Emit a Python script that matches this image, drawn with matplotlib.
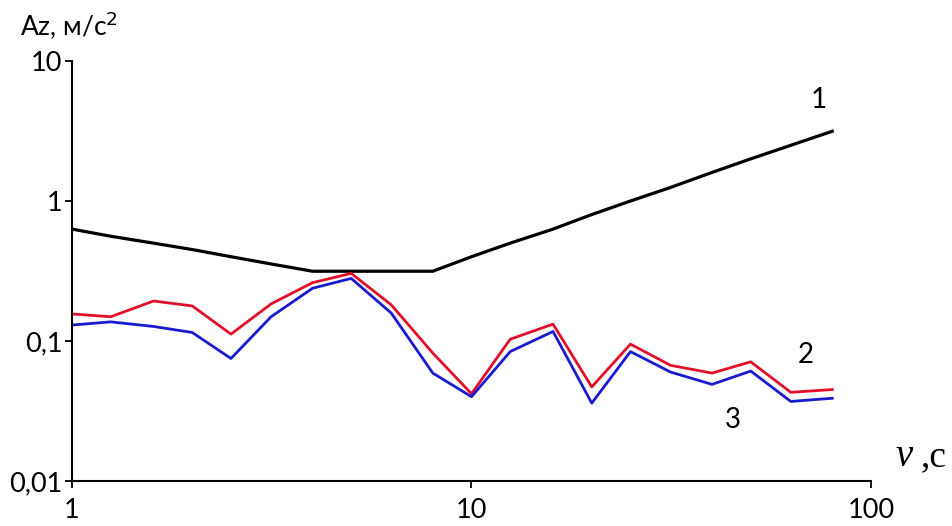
import matplotlib
matplotlib.use("Agg")
import matplotlib.pyplot as plt
from matplotlib.ticker import FixedLocator, FixedFormatter, NullLocator

freq = [1, 1.25, 1.6, 2, 2.5, 3.15, 4, 5, 6.3, 8, 10, 12.5, 16, 20, 25, 31.5, 40, 50, 63, 80]
limit_1 = [0.63, 0.56, 0.5, 0.45, 0.4, 0.355, 0.315, 0.315, 0.315, 0.315,
           0.4, 0.5, 0.63, 0.8, 1.0, 1.25, 1.6, 2.0, 2.5, 3.15]
series_2 = [0.156, 0.149, 0.193, 0.178, 0.112, 0.184, 0.261, 0.304, 0.181, 0.082,
            0.042, 0.103, 0.132, 0.047, 0.095, 0.067, 0.059, 0.071, 0.043, 0.045]
series_3 = [0.130, 0.137, 0.127, 0.115, 0.075, 0.149, 0.238, 0.280, 0.158, 0.059,
            0.040, 0.084, 0.117, 0.036, 0.084, 0.060, 0.049, 0.061, 0.037, 0.039]

xticks = [1, 10, 100]
xtick_labels = ["1", "10", "100"]
yticks = [0.01, 0.1, 1, 10]
ytick_labels = ["0,01", "0,1", "1", "10"]

plt.rcParams['font.family'] = ['Lato', 'DejaVu Sans']

fig = plt.figure(figsize=(9.53, 5.26), dpi=100)
ax = fig.add_axes([72/953, 1-481/526, (871-72)/953, (481-61)/526])

ax.plot(freq, limit_1, color="black", lw=2.3)
ax.plot(freq, series_2, color="#e0102a", lw=2.0)
ax.plot(freq, series_3, color="#1a1ad0", lw=2.0)

ax.set_xscale("log")
ax.set_yscale("log")
ax.set_xlim(1, 100)
ax.set_ylim(0.01, 10)

ax.xaxis.set_major_locator(FixedLocator(xticks))
ax.xaxis.set_major_formatter(FixedFormatter(xtick_labels))
ax.yaxis.set_major_locator(FixedLocator(yticks))
ax.yaxis.set_major_formatter(FixedFormatter(ytick_labels))
ax.xaxis.set_minor_locator(NullLocator())
ax.yaxis.set_minor_locator(NullLocator())

for s in ["top", "right"]:
    ax.spines[s].set_visible(False)
for s in ["left", "bottom"]:
    ax.spines[s].set_linewidth(1.5)
ax.tick_params(axis="both", which="major", length=5, width=1.3,
               labelsize=19.5, direction="out", color="black")
ax.tick_params(axis="x", pad=7)
ax.tick_params(axis="y", pad=2)

ax.text(73.8, 5.26, "1", fontsize=20, ha="center", va="center")
ax.text(68.8, 0.0794, "2", fontsize=20, ha="center", va="center")
ax.text(45.2, 0.0273, "3", fontsize=20, ha="center", va="center")

fig.text(20/953, 1-25/526, "Az, м/с$^2$", fontsize=19, ha="left", va="center")
fig.text(895/953, 1-466/526, "ν", fontsize=28, family="Liberation Serif",
         style="italic", ha="left", va="baseline")
fig.text(921/953, 1-466/526, ",c", fontsize=27, family="Liberation Serif",
         ha="left", va="baseline")

fig.savefig("out.png", dpi=100)
